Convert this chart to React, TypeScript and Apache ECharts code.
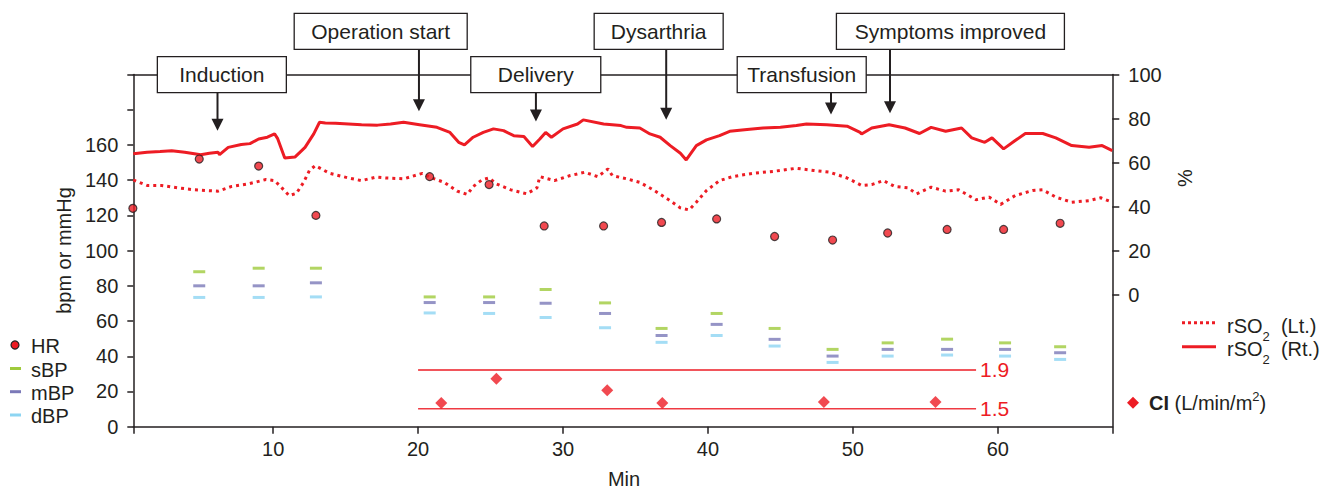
import React, { useEffect, useRef } from "react";
import * as echarts from "echarts";

const FONT = '"Liberation Sans", Arial, Helvetica, sans-serif';
const INK = "#231f20";
const RED = "#ed1c24";
const RED2 = "#ef3a42";
const SBP_COLOR = "#9fca3c";
const MBP_COLOR = "#7b79b8";
const DBP_COLOR = "#8dd5f2";

// x axis (minutes)
const X_MIN = 0.35;
const X_MAX = 67.9;
const X_TICKS = [10, 20, 30, 40, 50, 60];

// left axis (bpm or mmHg)
const LEFT_MIN = 0;
const LEFT_MAX = 200;
const LEFT_STEP = 20;
const LEFT_LABEL_MAX = 160;

// right axis (%)
const RIGHT_MIN = -60;
const RIGHT_MAX = 100;
const RIGHT_TICKS = [0, 20, 40, 60, 80, 100];

// hidden CI axis (L/min/m2)
const CI_MIN = 1.3145;
const CI_MAX = 4.951;

// rSO2 right (solid) [min, %]
const rso2Rt: [number, number][] = [
  [0.35, 64.0], [1.3, 64.7], [2.2, 65.0], [3.0, 65.4], [3.9, 64.7], [5.0, 63.5], [5.6, 64.2],
  [6.2, 64.7], [6.3, 63.6], [6.9, 66.9], [7.8, 68.2], [8.4, 68.6], [9.0, 70.7], [9.6, 71.5],
  [10.1, 73.0], [10.3, 71.0], [10.8, 62.1], [11.5, 62.5], [12.2, 66.9], [12.8, 73.0], [13.2, 78.3],
  [13.6, 78.0], [14.3, 77.8], [15.2, 77.5], [16.1, 77.2], [17.2, 77.0], [18.1, 77.5], [19.0, 78.3],
  [20.1, 77.2], [21.3, 76.0], [22.2, 73.7], [22.8, 69.2], [23.2, 68.0], [23.8, 71.5], [24.5, 73.7],
  [25.2, 75.3], [25.9, 74.5], [26.6, 72.2], [27.3, 71.8], [27.9, 67.3], [28.4, 70.7], [28.8, 73.7],
  [29.2, 71.5], [30.0, 75.3], [31.0, 77.5], [31.4, 79.4], [32.8, 77.5], [34.0, 76.8], [34.4, 76.0],
  [35.3, 75.7], [36.0, 73.0], [36.7, 71.5], [37.4, 67.7], [38.1, 64.2], [38.5, 61.2], [39.2, 67.7],
  [39.9, 70.3], [40.8, 72.2], [41.5, 74.2], [42.7, 75.0], [43.8, 75.7], [45.0, 76.0], [46.1, 76.8],
  [46.8, 77.5], [48.2, 77.2], [49.6, 76.5], [50.5, 73.7], [50.6, 73.0], [51.3, 75.7], [52.5, 77.2],
  [53.6, 75.7], [54.6, 73.2], [55.4, 76.0], [56.4, 74.2], [57.5, 75.7], [58.2, 71.2], [59.1, 69.2],
  [59.6, 71.2], [60.4, 66.2], [61.2, 70.0], [61.9, 73.2], [63.1, 73.2], [64.0, 71.2], [65.1, 67.7],
  [66.3, 66.9], [67.2, 67.7], [67.9, 65.4],
];

// rSO2 left (dotted) [min, %]
const rso2Lt: [number, number][] = [
  [0.35, 52.1], [1.3, 49.6], [2.3, 49.6], [3.4, 48.5], [4.6, 47.6], [6.2, 47.0], [7.1, 49.1],
  [8.3, 50.3], [9.5, 52.3], [10.1, 51.8], [10.6, 48.5], [11.1, 45.0], [11.6, 46.0], [12.1, 51.0],
  [12.5, 56.4], [12.9, 58.6], [13.9, 55.1], [15.2, 53.0], [16.1, 51.8], [17.1, 53.4], [17.8, 53.0],
  [19.0, 52.6], [20.3, 55.1], [20.8, 53.4], [21.8, 51.0], [22.7, 47.0], [23.4, 45.5], [23.8, 49.1],
  [24.4, 52.1], [24.9, 53.0], [25.4, 50.3], [26.4, 47.6], [27.5, 45.8], [28.2, 48.5], [28.4, 53.6],
  [29.4, 51.8], [30.5, 54.1], [31.5, 55.6], [32.4, 53.6], [33.1, 57.1], [33.4, 54.1], [34.4, 52.6],
  [35.3, 51.0], [36.3, 47.3], [37.2, 43.5], [38.1, 39.4], [38.7, 38.5], [39.2, 42.0], [39.9, 47.3],
  [40.8, 51.8], [41.7, 53.6], [43.1, 55.1], [44.5, 56.0], [46.1, 57.4], [47.3, 56.4], [48.4, 55.6],
  [49.6, 53.0], [50.6, 49.6], [51.3, 50.0], [52.1, 51.8], [52.9, 49.1], [53.8, 48.5], [54.4, 45.8],
  [55.4, 48.8], [56.4, 47.0], [57.3, 47.6], [58.5, 43.1], [59.4, 44.3], [60.2, 41.0], [61.2, 45.0],
  [62.4, 47.3], [63.1, 47.6], [64.0, 44.3], [65.1, 42.0], [66.3, 42.7], [67.1, 44.0], [67.9, 42.0],
];

// HR (bpm)
const hrMin = [0.32, 4.9, 9.0, 12.95, 20.8, 24.9, 28.7, 32.8, 36.8, 40.6, 44.6, 48.6, 52.4, 56.5, 60.4, 64.3];
const hrVal = [124, 152, 148, 120, 142, 137.5, 114, 114, 116, 118, 108, 106, 110, 112, 112, 115.5];

// blood pressure (mmHg)
const bpMin = [4.9, 9.0, 12.95, 20.8, 24.9, 28.8, 32.9, 36.8, 40.6, 44.6, 48.6, 52.4, 56.5, 60.5, 64.3];
const sbpVal = [88, 90, 90, 73.7, 73.7, 77.9, 70.3, 55.8, 64.3, 55.8, 43.9, 47.6, 49.7, 47.6, 45.4];
const mbpVal = [80, 80, 81.7, 70.5, 70.5, 70.1, 64.3, 51.8, 58.1, 49.6, 40.1, 43.9, 43.9, 43.9, 42];
const dbpVal = [73.4, 73.4, 73.7, 64.6, 64.3, 62, 56.2, 47.9, 51.8, 45.8, 36.5, 40.1, 40.7, 40.1, 38.2];

// cardiac index
const ciMin = [21.6, 25.4, 33.05, 36.85, 48.0, 55.7];
const ciVal = [1.56, 1.81, 1.69, 1.56, 1.57, 1.57];
const ciRefStart = 20;
const ciRefEnd = 58.5;
const ciRefHigh = 1.9;
const ciRefLow = 1.5;

// events
const eventLabels = ["Induction", "Operation start", "Delivery", "Dysarthria", "Transfusion", "Symptoms improved"];
const eventArrowMin = [6.16, 20.06, 28.13, 37.12, 48.49, 52.56];
const eventBoxMin = [6.46, 17.42, 28.12, 36.6, 46.47, 56.73];
const eventRow = [1, 0, 1, 0, 1, 0];
const eventTipPct = [74.5, 83.3, 78.7, 79.5, 81.8, 82.4];
const eventBoxW = [129, 173, 130, 129, 129, 228];

const axisLineStyle = { color: INK, width: 1.5 };

export default function App() {
  const ref = useRef<HTMLDivElement>(null);

  useEffect(() => {
    if (!ref.current) return;
    const chart = echarts.init(ref.current, undefined, { renderer: "svg" });

    const bpSeries = (name: string, vals: number[], color: string) => ({
      name,
      type: "scatter",
      xAxisIndex: 0,
      yAxisIndex: 0,
      symbol: "rect",
      symbolSize: [12, 3],
      itemStyle: { color },
      data: bpMin.map((m, i) => [m, vals[i]]),
      z: 4,
    });

    const refLine = (v: number, color: string) => ({
      type: "line",
      xAxisIndex: 0,
      yAxisIndex: 2,
      showSymbol: false,
      symbol: "none",
      lineStyle: { color, width: 1.5 },
      data: [[ciRefStart, v], [ciRefEnd, v]],
      endLabel: {
        show: true,
        formatter: String(v),
        color: RED,
        fontSize: 21,
        fontFamily: FONT,
        distance: 4,
      },
      z: 3,
    });

    chart.setOption({
      animation: false,
      textStyle: { fontFamily: FONT, color: INK },
      grid: { left: 133.3, right: 214.7, top: 74.5, bottom: 63.3, containLabel: false },
      xAxis: [
        {
          type: "value",
          position: "bottom",
          min: X_MIN,
          max: X_MAX,
          axisLine: { show: true, onZero: false, lineStyle: axisLineStyle },
          axisTick: { show: true, length: 7, lineStyle: axisLineStyle, customValues: [X_MIN, ...X_TICKS, X_MAX] },
          axisLabel: { customValues: X_TICKS, fontSize: 20, color: INK, margin: 12, fontFamily: FONT },
          splitLine: { show: false },
        },
        {
          type: "value",
          position: "top",
          min: X_MIN,
          max: X_MAX,
          axisLine: { show: true, onZero: false, lineStyle: axisLineStyle },
          axisTick: { show: false },
          axisLabel: { show: false },
          splitLine: { show: false },
        },
      ],
      yAxis: [
        {
          type: "value",
          position: "left",
          min: LEFT_MIN,
          max: LEFT_MAX,
          interval: LEFT_STEP,
          axisLine: { show: true, onZero: false, lineStyle: axisLineStyle },
          axisTick: { show: true, length: 6, lineStyle: axisLineStyle },
          axisLabel: {
            fontSize: 20,
            color: INK,
            margin: 15,
            fontFamily: FONT,
            formatter: (v: number) => (v <= LEFT_LABEL_MAX ? String(v) : ""),
          },
          splitLine: { show: false },
        },
        {
          type: "value",
          position: "right",
          min: RIGHT_MIN,
          max: RIGHT_MAX,
          axisLine: { show: true, onZero: false, lineStyle: axisLineStyle },
          axisTick: { show: true, length: 7, lineStyle: axisLineStyle, customValues: RIGHT_TICKS },
          axisLabel: { customValues: RIGHT_TICKS, fontSize: 20, color: INK, margin: 16, fontFamily: FONT },
          splitLine: { show: false },
        },
        {
          type: "value",
          show: false,
          min: CI_MIN,
          max: CI_MAX,
          splitLine: { show: false },
        },
      ],
      series: [
        {
          name: "rSO2 (Lt.)",
          type: "line",
          xAxisIndex: 0,
          yAxisIndex: 1,
          showSymbol: false,
          symbol: "none",
          lineStyle: { color: RED, width: 3, type: [3, 4], cap: "butt" },
          data: rso2Lt,
          z: 2,
        },
        {
          name: "rSO2 (Rt.)",
          type: "line",
          xAxisIndex: 0,
          yAxisIndex: 1,
          showSymbol: false,
          symbol: "none",
          lineStyle: { color: RED, width: 3 },
          data: rso2Rt,
          z: 2,
        },
        refLine(ciRefHigh, RED),
        refLine(ciRefLow, RED2),
        bpSeries("sBP", sbpVal, SBP_COLOR),
        bpSeries("mBP", mbpVal, MBP_COLOR),
        bpSeries("dBP", dbpVal, DBP_COLOR),
        {
          name: "HR",
          type: "scatter",
          xAxisIndex: 0,
          yAxisIndex: 0,
          symbol: "circle",
          symbolSize: 8,
          clip: false,
          itemStyle: { color: RED, borderColor: INK, borderWidth: 1.2 },
          data: hrMin.map((m, i) => [m, hrVal[i]]),
          z: 5,
        },
        {
          name: "CI",
          type: "scatter",
          xAxisIndex: 0,
          yAxisIndex: 2,
          symbol: "diamond",
          symbolSize: 12,
          itemStyle: { color: RED },
          data: ciMin.map((m, i) => [m, ciVal[i]]),
          z: 5,
        },
      ],
    });

    const txt = (text: string, x: number, y: number, extra: any = {}) => ({
      type: "text",
      x,
      y,
      z: 70,
      style: {
        text,
        fontSize: 20,
        fontFamily: FONT,
        fill: INK,
        align: "left",
        verticalAlign: "middle",
        textAlign: "left",
        textVerticalAlign: "middle",
        ...extra,
      },
    });

    const g: any[] = [];
    const BOX_H = 36;
    eventLabels.forEach((label, i) => {
      const ax = chart.convertToPixel({ xAxisIndex: 0 }, eventArrowMin[i]) as number;
      const cx = chart.convertToPixel({ xAxisIndex: 0 }, eventBoxMin[i]) as number;
      const tipY = chart.convertToPixel({ yAxisIndex: 1 }, eventTipPct[i]) as number;
      const top = eventRow[i] === 0 ? 13.3 : 56.7;
      const w = eventBoxW[i];
      g.push({
        type: "line",
        shape: { x1: ax, y1: top + BOX_H, x2: ax, y2: tipY - 11 },
        style: { stroke: INK, lineWidth: 2 },
        z: 50,
      });
      g.push({
        type: "polygon",
        shape: { points: [[ax - 6, tipY - 12], [ax + 6, tipY - 12], [ax, tipY]] },
        style: { fill: INK },
        z: 50,
      });
      g.push({
        type: "rect",
        shape: { x: cx - w / 2, y: top, width: w, height: BOX_H },
        style: { fill: "#ffffff", stroke: INK, lineWidth: 1.3 },
        z: 60,
      });
      g.push(txt(label, cx, top + BOX_H / 2, { fontSize: 21, align: "center", textAlign: "center" }));
    });

    // axis names
    g.push({
      type: "text",
      x: 64,
      y: 250.5,
      rotation: Math.PI / 2,
      z: 70,
      style: { text: "bpm or mmHg", fontSize: 20, fontFamily: FONT, fill: INK, align: "center", verticalAlign: "middle", textAlign: "center", textVerticalAlign: "middle" },
    });
    g.push({
      type: "text",
      x: 1185,
      y: 178,
      rotation: Math.PI / 2,
      z: 70,
      style: { text: "%", fontSize: 20, fontFamily: FONT, fill: INK, align: "center", verticalAlign: "middle", textAlign: "center", textVerticalAlign: "middle" },
    });
    g.push(txt("Min", 624, 478.5, { align: "center", textAlign: "center" }));

    // left legend
    g.push({ type: "circle", shape: { cx: 15, cy: 345, r: 4 }, style: { fill: RED, stroke: INK, lineWidth: 1.2 }, z: 70 });
    g.push(txt("HR", 31, 346));
    const bpLeg: [string, string, number][] = [["sBP", SBP_COLOR, 368.5], ["mBP", MBP_COLOR, 391.7], ["dBP", DBP_COLOR, 415]];
    bpLeg.forEach(([name, color, y]) => {
      g.push({ type: "rect", shape: { x: 10, y: y - 1.5, width: 11, height: 3 }, style: { fill: color }, z: 70 });
      g.push(txt(name, 31, y + 1));
    });

    // right legend
    g.push({
      type: "line",
      shape: { x1: 1182, y1: 322.7, x2: 1216, y2: 322.7 },
      style: { stroke: RED, lineWidth: 3, lineDash: [3, 3] },
      z: 70,
    });
    g.push({
      type: "line",
      shape: { x1: 1182, y1: 346.7, x2: 1216, y2: 346.7 },
      style: { stroke: RED, lineWidth: 3 },
      z: 70,
    });
    const richSub = {
      m: { fontSize: 20, fontFamily: FONT, fill: INK, color: INK, lineHeight: 34, verticalAlign: "middle" },
      s: { fontSize: 13, fontFamily: FONT, fill: INK, color: INK, lineHeight: 14, verticalAlign: "bottom" },
    };
    g.push(txt("{m|rSO}{s|2}{m|  (Lt.)}", 1227, 325.7, { rich: richSub }));
    g.push(txt("{m|rSO}{s|2}{m|  (Rt.)}", 1227, 349, { rich: richSub }));

    g.push({
      type: "polygon",
      shape: { points: [[1133, 396.7], [1139, 402.7], [1133, 408.7], [1127, 402.7]] },
      style: { fill: RED },
      z: 70,
    });
    const richSup = {
      b: { fontSize: 20, fontFamily: FONT, fontWeight: "bold", fill: INK, color: INK, lineHeight: 26, verticalAlign: "middle" },
      m: { fontSize: 20, fontFamily: FONT, fill: INK, color: INK, lineHeight: 26, verticalAlign: "middle" },
      s: { fontSize: 13, fontFamily: FONT, fill: INK, color: INK, lineHeight: 14, verticalAlign: "top" },
    };
    g.push(txt("{b|CI}{m| (L/min/m}{s|2}{m|)}", 1149, 403, { rich: richSup }));

    chart.setOption({ graphic: g });

    return () => {
      chart.dispose();
    };
  }, []);

  return (
    <div
      ref={ref}
      style={{ position: "absolute", left: 0, top: 0, width: "1327px", height: "490px", background: "#ffffff" }}
    />
  );
}
